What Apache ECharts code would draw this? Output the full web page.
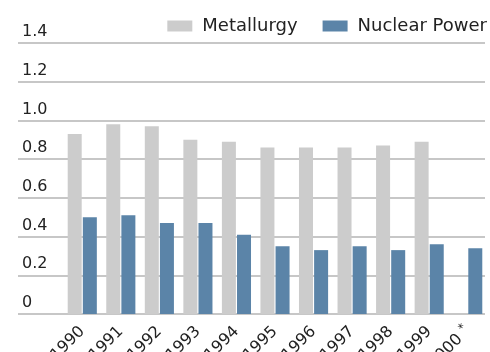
<!DOCTYPE html>
<html>
<head>
<meta charset="utf-8">
<style>
  html, body { margin: 0; padding: 0; background: #fff; }
  #chart { width: 490px; height: 352px; }
</style>
<script src="https://cdn.jsdelivr.net/npm/echarts@6/dist/echarts.min.js"></script>
</head>
<body>
<div id="chart"></div>
<script>
// Yearly values for the two sectors
const years = ['1990', '1991', '1992', '1993', '1994', '1995', '1996', '1997', '1998', '1999', '2000'];
const metallurgy = [0.93, 0.98, 0.97, 0.90, 0.89, 0.86, 0.86, 0.86, 0.87, 0.89, null];
const nuclearPower = [0.50, 0.51, 0.47, 0.47, 0.41, 0.35, 0.33, 0.35, 0.33, 0.36, 0.34];
const yTicks = [0, 0.2, 0.4, 0.6, 0.8, 1.0, 1.2, 1.4];
const estimatedYear = '2000';

const FONT = '"DejaVu Sans", "Liberation Sans", Arial, sans-serif';
const chart = echarts.init(document.getElementById('chart'));

chart.setOption({
  animation: false,
  textStyle: { fontFamily: FONT },
  legend: {
    right: -2,
    top: 12,
    itemWidth: 25,
    itemHeight: 11,
    itemGap: 25,
    icon: 'rect',
    textStyle: { fontSize: 18, color: '#222', fontFamily: FONT, padding: [0, 0, 0, 5] },
    data: ['Metallurgy', 'Nuclear Power']
  },
  grid: [
    // full-width grid carrying the horizontal rules and value labels
    { left: 18, right: 5, top: 43, bottom: 38, outerBoundsMode: 'none' },
    // bar area
    { left: 63, right: 3, top: 43, bottom: 38, outerBoundsMode: 'none' }
  ],
  xAxis: [
    { gridIndex: 0, type: 'value', show: false, min: 0, max: 1 },
    {
      gridIndex: 1,
      type: 'category',
      data: years,
      axisLine: { show: false },
      axisTick: { show: false },
      axisLabel: {
        rotate: 45,
        margin: 15,
        fontSize: 16,
        color: '#222',
        fontFamily: FONT,
        interval: 0,
        formatter: y => (y === estimatedYear ? y + ' {s|*}' : y),
        rich: {
          s: { fontSize: 12, color: '#222', fontFamily: FONT, padding: [0, 0, 8, 0] }
        }
      }
    }
  ],
  yAxis: [
    {
      gridIndex: 0,
      type: 'value',
      min: yTicks[0],
      max: yTicks[yTicks.length - 1],
      interval: 0.2,
      axisLine: { show: false },
      axisTick: { show: false },
      splitLine: { lineStyle: { color: '#b4b4b4', width: 1.5 } },
      axisLabel: {
        inside: true,
        margin: 4,
        align: 'left',
        verticalAlign: 'bottom',
        padding: [0, 0, 3, 0],
        fontSize: 16,
        color: '#222',
        fontFamily: FONT,
        formatter: v => (v === 0 ? '0' : v.toFixed(1))
      }
    },
    {
      gridIndex: 1,
      type: 'value',
      min: yTicks[0],
      max: yTicks[yTicks.length - 1],
      interval: 0.2,
      show: false
    }
  ],
  series: [
    {
      name: 'Metallurgy',
      type: 'bar',
      xAxisIndex: 1,
      yAxisIndex: 1,
      data: metallurgy,
      barWidth: 14,
      barGap: '8%',
      itemStyle: { color: '#cccccc' }
    },
    {
      name: 'Nuclear Power',
      type: 'bar',
      xAxisIndex: 1,
      yAxisIndex: 1,
      data: nuclearPower,
      barWidth: 14,
      barGap: '8%',
      itemStyle: { color: '#5b84a8' }
    }
  ]
});
</script>
</body>
</html>
